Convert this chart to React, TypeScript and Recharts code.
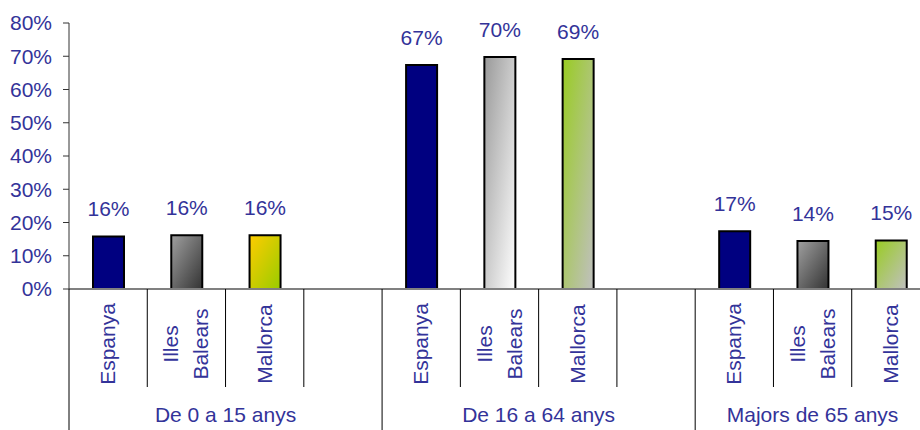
import React from "react";
import { BarChart, Bar, XAxis, YAxis, Cell, LabelList } from "recharts";

const categories = [
  "Espanya", "Illes Balears", "Mallorca", "",
  "Espanya", "Illes Balears", "Mallorca", "",
  "Espanya", "Illes Balears", "Mallorca",
];
const values: (number | null)[] = [15.8, 16.2, 16.2, null, 67.4, 69.8, 69.2, null, 17.4, 14.4, 14.6];
const groupNames = ["De 0 a 15 anys", "De 16 a 64 anys", "Majors de 65 anys"];
const groupSizes = [4, 4, 3];
const yTicks = [0, 10, 20, 30, 40, 50, 60, 70, 80];

const data = categories.map((c, i) => ({ key: String(i), name: c, value: values[i] }));

const fills = [
  "#000080", "url(#grayDark)", "url(#yellowGreen)", "none",
  "#000080", "url(#grayLight)", "url(#greenGray)", "none",
  "#000080", "url(#grayDark)", "url(#greenGray)",
];

const TEXT = "#333399";
const FONT = 21;
const CHART_W = 931;
const PLOT_LEFT = 69;
const PLOT_RIGHT = CHART_W - 1;
const SLOT = (PLOT_RIGHT - PLOT_LEFT) / categories.length;

const groupStarts: number[] = [];
{
  let s = 0;
  groupSizes.forEach((n) => {
    groupStarts.push(s);
    s += n;
  });
}

const XTick = (props: any) => {
  const { x, y, index } = props;
  const name = categories[index] ?? "";
  const lines = name ? name.split(" ") : [];
  const gi = groupStarts.indexOf(index);
  const isStart = gi >= 0;
  const left = x - SLOT / 2;
  return (
    <g>
      <line x1={left} x2={left} y1={y} y2={isStart ? y + 150 : y + 98} stroke="#000" strokeWidth={1} />
      {lines.map((ln: string, i: number) => {
        const cx = x + (i - (lines.length - 1) / 2) * 30 + 7;
        return (
          <text
            key={i}
            transform={`translate(${cx}, ${y + 55}) rotate(-90)`}
            textAnchor="middle"
            fill={TEXT}
            fontSize={FONT}
          >
            {ln}
          </text>
        );
      })}
      {isStart && (
        <text x={left + (groupSizes[gi] * SLOT) / 2} y={y + 133} textAnchor="middle" fill={TEXT} fontSize={FONT}>
          {groupNames[gi]}
        </text>
      )}
    </g>
  );
};

export default function App() {
  return (
    <div
      style={{
        position: "absolute",
        left: 0,
        top: 0,
        width: 920,
        height: 430,
        overflow: "hidden",
        background: "#fff",
        fontFamily: "'Liberation Sans', Arial, sans-serif",
      }}
    >
      <BarChart width={CHART_W} height={440} data={data} margin={{ top: 23, right: 1, left: 0, bottom: 0 }}>
        <defs>
          <linearGradient id="grayDark" x1="0" y1="0" x2="1" y2="1">
            <stop offset="0%" stopColor="#a0a0a0" />
            <stop offset="100%" stopColor="#333333" />
          </linearGradient>
          <linearGradient id="grayLight" x1="0" y1="0" x2="1" y2="1">
            <stop offset="0%" stopColor="#999999" />
            <stop offset="100%" stopColor="#ffffff" />
          </linearGradient>
          <linearGradient id="yellowGreen" x1="0" y1="0" x2="1" y2="1">
            <stop offset="0%" stopColor="#ffcc00" />
            <stop offset="100%" stopColor="#99cc00" />
          </linearGradient>
          <linearGradient id="greenGray" x1="0" y1="0" x2="1" y2="1">
            <stop offset="0%" stopColor="#99cc22" />
            <stop offset="100%" stopColor="#c0c0c0" />
          </linearGradient>
        </defs>
        <XAxis
          dataKey="key"
          type="category"
          height={151}
          interval={0}
          tickLine={false}
          tickSize={0}
          tickMargin={0}
          axisLine={{ stroke: "#808080", strokeWidth: 2 }}
          tick={<XTick />}
        />
        <YAxis
          type="number"
          domain={[0, 80]}
          ticks={yTicks}
          width={69}
          tickSize={6}
          tickMargin={11}
          interval={0}
          tickFormatter={(v: number) => `${v}%`}
          axisLine={{ stroke: "#333333" }}
          tickLine={{ stroke: "#333333" }}
          tick={{ fill: TEXT, fontSize: FONT }}
        />
        <Bar dataKey="value" barSize={31} stroke="#000" strokeWidth={2} isAnimationActive={false}>
          {data.map((d, i) => (
            <Cell key={d.key} fill={fills[i]} />
          ))}
          <LabelList
            dataKey="value"
            position="top"
            offset={20}
            fill={TEXT}
            fontSize={FONT}
            formatter={(v: any) => (v == null ? "" : `${Math.round(Number(v))}%`)}
          />
        </Bar>
      </BarChart>
    </div>
  );
}
